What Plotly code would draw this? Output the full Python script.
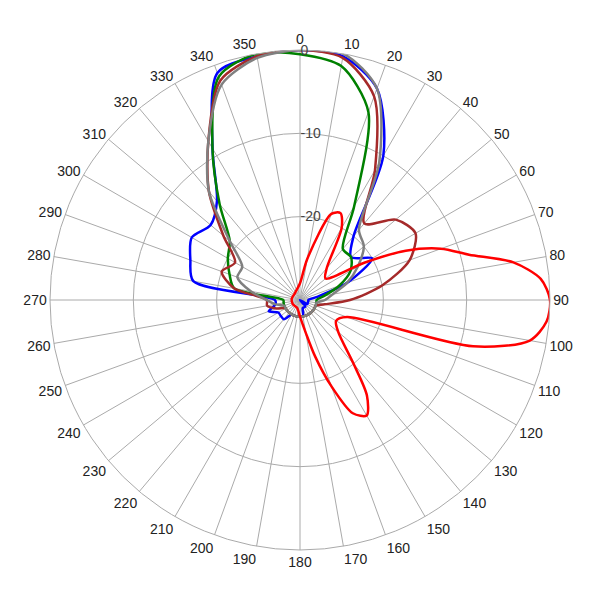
import plotly.graph_objects as go

angles10 = list(range(0, 370, 10))
blue = [0, -0.3, -3, -10, -20, -22, -20, -24, -28, -29, -29, -29, -29, -30, -29, -29, -29, -28,
        -28, -28, -28, -28, -27, -27, -27, -26, -27, -27, -17, -16, -15, -16, -14.5, -9, -1, -0.3, 0]
green = [-0.5, -1.5, -6, -17, -22, -22, -23, -25, -27, -28, -28, -28, -28, -28, -28, -28, -28, -28,
         -28, -28, -28, -28, -28, -28, -28, -28, -28, -28, -22, -21, -20, -19, -15, -9, -1.5, 0, -0.5]
brown = [0, -0.5, -4, -12, -18, -15, -14, -16, -20, -24, -27, -28, -28, -28, -28, -28, -28, -28,
         -28, -28, -28, -28, -28, -28, -28, -27, -26, -26, -22, -20, -21, -18, -13, -8, -2, -0.3, 0]
gray = [0, 0, -3, -11, -19, -20, -22, -24, -26, -27, -28, -28, -28, -28, -28, -28, -28, -28,
        -28, -28, -28, -28, -28, -28, -28, -28, -27, -26, -24, -22, -22, -19, -13, -8, -2.5, -0.5, 0]

red_angles = [0, 10, 20, 25, 30, 40, 50, 60, 65, 70, 75, 80, 85, 90, 95, 100, 105, 110, 120, 130,
              140, 145, 150, 155, 160, 165, 170, 180, 200, 240, 280, 320, 360]
red = [-28, -25, -19, -18.5, -20, -25, -26, -21, -16, -12, -9, -4, -1, 0, -0.3, -2, -8.5, -24,
       -25, -24, -20, -16, -14, -15, -19, -23, -26, -28, -29, -29, -29, -29, -28]

series = [("blue", blue, angles10), ("green", green, angles10), ("brown", brown, angles10),
          ("gray", gray, angles10), ("red", red, red_angles)]

fig = go.Figure()
for color, r, th in series:
    fig.add_trace(go.Scatterpolar(r=r, theta=th, mode="lines",
                                  line=dict(color=color, width=2.5, shape="spline", smoothing=0.8),
                                  showlegend=False))

tick_angles = list(range(0, 360, 10))
fig.update_layout(
    width=600, height=600, margin=dict(l=42, r=58, t=42, b=58),
    paper_bgcolor="white", font=dict(family="Liberation Sans, Arial", size=14, color="#222"),
    polar=dict(
        bgcolor="white",
        angularaxis=dict(rotation=90, direction="clockwise", tickmode="array", tickvals=tick_angles,
                         ticktext=[str(a) for a in tick_angles], gridcolor="#aaaaaa",
                         linecolor="#aaaaaa", ticks="", tickfont=dict(size=14)),
        radialaxis=dict(range=[-30, 0], tickvals=[-30, -20, -10, 0], ticktext=["", "-20", "-10", "0"],
                        angle=90, tickangle=90, showline=False, gridcolor="#aaaaaa", ticks="",
                        tickfont=dict(size=14, color="#444")),
    ),
)
fig.write_html("out.html")
